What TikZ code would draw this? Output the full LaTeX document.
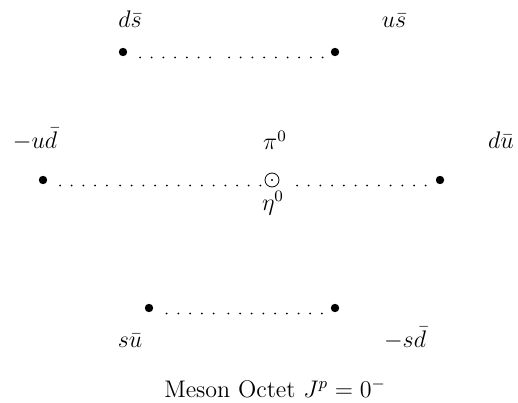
\documentclass[tikz,border=0pt]{standalone}
\usepackage{amsmath, amssymb}
\usepackage{tikz}
\usetikzlibrary{calc, positioning}

\tikzset{
  quark/.style={circle, fill=black, inner sep=0pt, minimum size=4.2pt},
  neutral/.style={circle, draw=black, line width=0.4pt, inner sep=0pt, minimum size=7pt},
  dotrow/.style={line width=1pt, line cap=round, dash pattern=on 0pt off 5.85pt},
  lbl/.style={anchor=base, inner sep=0pt, font=\fontsize{12}{14}\selectfont}
}

\begin{document}
\begin{tikzpicture}[x=0.5pt, y=0.5pt]
  \useasboundingbox (0,0) rectangle (518,402);
  % states of the octet
  \node[quark] (ds) at (123,350) {};
  \node[quark] (us) at (335,350) {};
  \node[quark] (ud) at (43,222) {};
  \node[neutral] (pz) at (272,222) {};
  \node[quark] (du) at (440,222) {};
  \node[quark] (su) at (149,94) {};
  \node[quark] (sd) at (335,94) {};
  \fill (pz.center) circle (0.6pt);
  % dotted rows
  \draw[dotrow] ([shift={(17,-5.5)}]ds.center) -- ++(71,0);
  \draw[dotrow] ([shift={(106,-5.5)}]ds.center) -- ([shift={(-12,-5.5)}]us.center);
  \draw[dotrow] ([shift={(17,-5.5)}]ud.center) -- ++(47.5,0);
  \draw[dotrow] ([shift={(77,-5.5)}]ud.center) -- ([shift={(-11,-5.5)}]pz.center);
  \draw[dotrow] ([shift={(25,-5.5)}]pz.center) -- ([shift={(-12,-5.5)}]du.center);
  \draw[dotrow] ([shift={(17.7,-5.5)}]su.center) -- ++(47.5,0);
  \draw[dotrow] ([shift={(79.3,-5.5)}]su.center) -- ([shift={(-12,-5.5)}]sd.center);
  % labels
  \node[lbl] (ds-l) at (130,374) {$d\bar s$};
  \node[lbl] (us-l) at (394,374) {$u\bar s$};
  \node[lbl] (ud-l) at (35,254) {$-u\bar d$};
  \node[lbl] (pz-l) at (275,252) {$\pi^0$};
  \node[lbl] (du-l) at (501,254) {$d\bar u$};
  \node[lbl] (eta-l) at (273,192) {$\eta^0$};
  \node[lbl] (su-l) at (130,55) {$s\bar u$};
  \node[lbl] (sd-l) at (405,55) {$-s\bar d$};
  \node[lbl] (title) at (275,5) {Meson Octet $J^p=0^-$};
\end{tikzpicture}
\end{document}
